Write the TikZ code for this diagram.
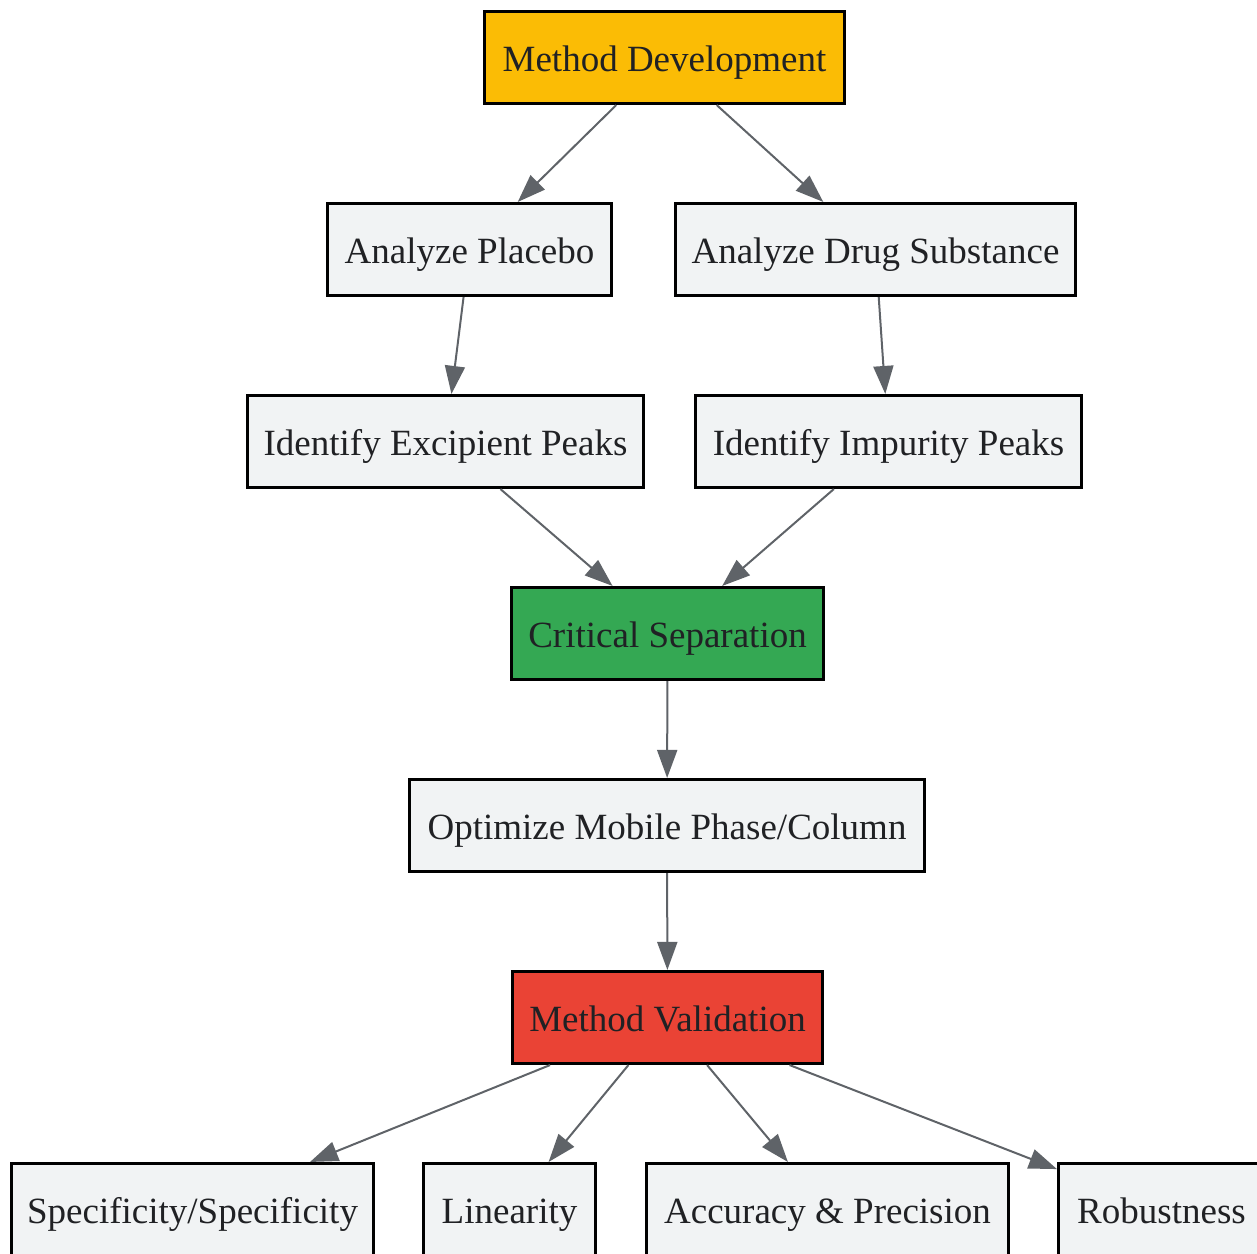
\documentclass[tikz,border=0pt]{standalone}
\usepackage{fontspec}
\setmainfont{Liberation Serif}
\usetikzlibrary{arrows.meta}
\definecolor{gold}{HTML}{FBBC05}
\definecolor{okgreen}{HTML}{34A853}
\definecolor{alertred}{HTML}{EA4335}
\definecolor{boxgray}{HTML}{F1F3F4}
\definecolor{txtgray}{HTML}{202124}
\definecolor{edgegray}{HTML}{5F6368}
\begin{document}
\begin{tikzpicture}[x=1pt, y=-1pt,
        box/.style={draw=black, line width=2.6pt, fill=boxgray, text=txtgray,
            minimum height=92.5pt, inner sep=0pt, text height=33pt, text depth=6pt,
            font=\fontsize{37}{44}\selectfont},
        edge/.style={draw=edgegray, line width=2pt,
            -{Triangle[length=28pt, width=20pt]}}]
            \useasboundingbox (0, 0) rectangle (1257, 1253);
            \clip (0, 0) rectangle (1257, 1253);

            \node[box, fill=gold, minimum width=360.5pt] (md) at (664.5, 57.5) {Method Development};

            \node[box, minimum width=284.5pt] (ap) at (469.5, 249.5) {Analyze Placebo};
            \node[box, minimum width=400.5pt] (ads) at (875.5, 249.5) {Analyze Drug Substance};

            \node[box, minimum width=396.5pt] (iep) at (445.5, 441.5) {Identify Excipient Peaks};
            \node[box, minimum width=386.5pt] (iip) at (888.5, 441.5) {Identify Impurity Peaks};

            \node[box, fill=okgreen, minimum width=312.5pt] (cs) at (667.5, 633.5) {Critical Separation};
            \node[box, minimum width=515.5pt] (omp) at (667, 825.5) {Optimize Mobile Phase/Column};
            \node[box, fill=alertred, minimum width=310.5pt] (mv) at (667.5, 1017.5) {Method Validation};

            \node[box, minimum width=362.5pt] (spec) at (192.5, 1209.5) {Specificity/Specificity};
            \node[box, minimum width=172.5pt] (lin) at (509.5, 1209.5) {Linearity};
            \node[box, minimum width=362.5pt] (acc) at (827.5, 1209.5) {Accuracy \& Precision};
            \node[box, minimum width=206.5pt] (rob) at (1161.5, 1209.5) {Robustness};

            \foreach \a/\b in {md/ap, md/ads, ap/iep, ads/iip, iep/cs, iip/cs,
                               cs/omp, omp/mv, mv/spec, mv/lin, mv/acc, mv/rob}{
                \draw[edge] (\a) to (\b);
            }
\end{tikzpicture}
\end{document}
